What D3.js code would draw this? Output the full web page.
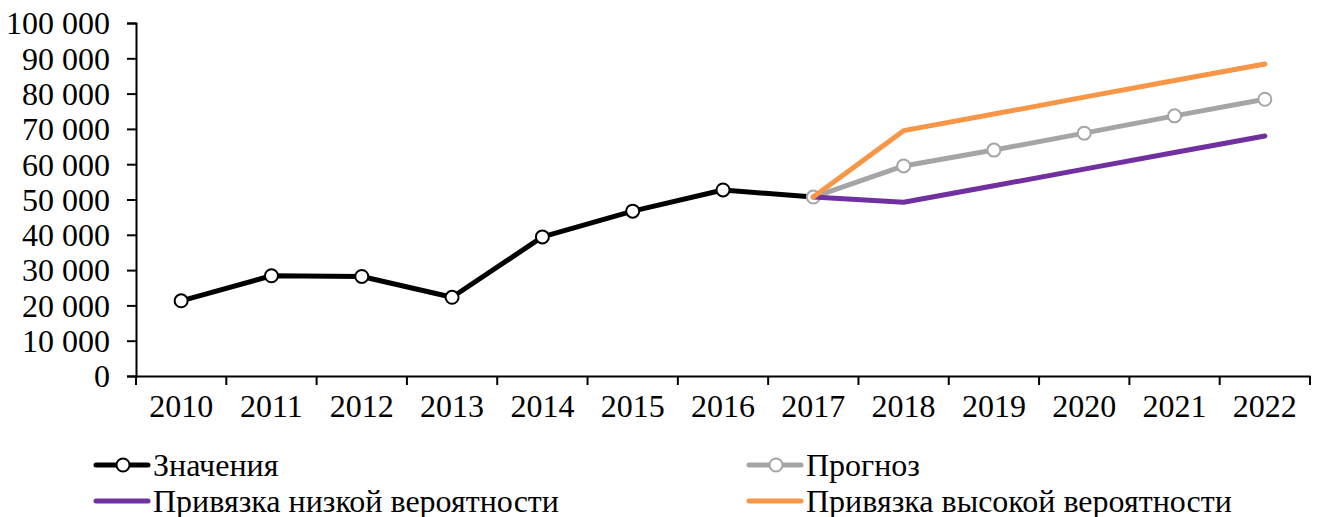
<!DOCTYPE html>
<html>
<head>
<meta charset="utf-8">
<script src="https://cdn.jsdelivr.net/npm/d3@7"></script>
<style>
  body { margin: 0; background: #fff; }
  svg text { font-family: "Liberation Serif", "Times New Roman", serif; fill: #000; }
</style>
</head>
<body>
<div class="container"></div>
<script>
// data
var years = ["2010","2011","2012","2013","2014","2015","2016","2017","2018","2019","2020","2021","2022"];
var valueYears = ["2010","2011","2012","2013","2014","2015","2016","2017"];
var values = [21300, 28400, 28200, 22300, 39400, 46700, 52700, 50700];
var forecastYears = ["2017","2018","2019","2020","2021","2022"];
var forecast = [50700, 59500, 64000, 68800, 73700, 78400];
var lowBound = [50700, 49200, 53900, 58600, 63300, 68000];
var highBound = [50700, 69500, 74200, 79000, 83700, 88400];
var yTicks = [0, 10000, 20000, 30000, 40000, 50000, 60000, 70000, 80000, 90000, 100000];

var width = 1320, height = 517;
var plotLeft = 136, plotRight = 1310, plotTop = 23, plotBottom = 376;

var svg = d3.select(".container").append("svg")
    .attr("width", width)
    .attr("height", height);

var x = d3.scaleBand().domain(years).range([plotLeft, plotRight]).padding(0);
var y = d3.scaleLinear().domain([0, 100000]).range([plotBottom, plotTop]);
var cx = function(yr) { return x(yr) + x.bandwidth() / 2; };

var fmt = function(d) { return d3.format(",")(d).replace(/,/g, " "); };

// y axis
var yAxis = svg.append("g")
    .attr("transform", "translate(" + plotLeft + ",0)")
    .call(d3.axisLeft(y).tickValues(yTicks).tickSize(9).tickPadding(17).tickFormat(fmt));
yAxis.selectAll("text").style("font-size", "32px").attr("dy", "0.34em");

// x axis, ticks on band edges
var xAxis = svg.append("g")
    .attr("transform", "translate(0," + plotBottom + ")")
    .call(d3.axisBottom(x).tickSize(0).tickPadding(0));
xAxis.selectAll("text").style("font-size", "32px").attr("dy", null).attr("y", 41);
xAxis.selectAll(".edge")
    .data(years.concat(["end"]))
    .enter().append("line")
    .attr("class", "edge")
    .attr("x1", function(d) { return d === "end" ? plotRight : x(d); })
    .attr("x2", function(d) { return d === "end" ? plotRight : x(d); })
    .attr("y1", 0).attr("y2", 9)
    .attr("stroke", "#000");

svg.selectAll(".domain").attr("stroke", "#000").attr("stroke-width", 2);
svg.selectAll(".tick line").attr("stroke", "#000").attr("stroke-width", 2);
svg.selectAll(".edge").attr("stroke-width", 2);

function line(xs, vs) {
    return d3.line().x(function(d, i) { return cx(xs[i]); }).y(function(d) { return y(d); })(vs);
}

// series
svg.append("path").attr("d", line(forecastYears, forecast))
    .attr("fill", "none").attr("stroke", "#A5A5A5").attr("stroke-width", 5).attr("stroke-linejoin", "round");
svg.append("path").attr("d", line(valueYears, values))
    .attr("fill", "none").attr("stroke", "#000").attr("stroke-width", 5).attr("stroke-linejoin", "round");

svg.selectAll(".fcDot")
    .data(forecast)
    .enter().append("circle")
    .attr("class", "fcDot")
    .attr("cx", function(d, i) { return cx(forecastYears[i]); })
    .attr("cy", function(d) { return y(d); })
    .attr("r", 6.5)
    .attr("fill", "#fff").attr("stroke", "#A5A5A5").attr("stroke-width", 2);

svg.selectAll(".valDot")
    .data(values)
    .enter().append("circle")
    .attr("class", "valDot")
    .attr("cx", function(d, i) { return cx(valueYears[i]); })
    .attr("cy", function(d) { return y(d); })
    .attr("r", 6.5)
    .attr("fill", "#fff").attr("stroke", "#000").attr("stroke-width", 2)
    .style("display", function(d, i) { return valueYears[i] === "2017" ? "none" : null; });

svg.append("path").attr("d", line(forecastYears, lowBound))
    .attr("fill", "none").attr("stroke", "#7030A0").attr("stroke-width", 5).attr("stroke-linecap", "round").attr("stroke-linejoin", "round");
svg.append("path").attr("d", line(forecastYears, highBound))
    .attr("fill", "none").attr("stroke", "#F79646").attr("stroke-width", 5).attr("stroke-linecap", "round").attr("stroke-linejoin", "round");

// legend
var legendItems = [
    { name: "Значения", color: "#000", dot: true, x: 96, y: 465 },
    { name: "Прогноз", color: "#A5A5A5", dot: true, x: 749, y: 465 },
    { name: "Привязка низкой вероятности", color: "#7030A0", dot: false, x: 96, y: 501 },
    { name: "Привязка высокой вероятности", color: "#F79646", dot: false, x: 749, y: 501 }
];
var lg = svg.selectAll(".legend")
    .data(legendItems)
    .enter().append("g")
    .attr("class", "legend")
    .attr("transform", function(d) { return "translate(" + d.x + "," + d.y + ")"; });
lg.append("line")
    .attr("x1", 0).attr("x2", 52).attr("y1", 0).attr("y2", 0)
    .attr("stroke", function(d) { return d.color; })
    .attr("stroke-width", 5).attr("stroke-linecap", "round");
lg.filter(function(d) { return d.dot; }).append("circle")
    .attr("cx", 27).attr("cy", 0).attr("r", 6.5)
    .attr("fill", "#fff").attr("stroke", function(d) { return d.color; }).attr("stroke-width", 2);
lg.append("text")
    .attr("x", 57).attr("y", 0).attr("dy", "0.34em")
    .style("font-size", "32px")
    .text(function(d) { return d.name; });
</script>
</body>
</html>
